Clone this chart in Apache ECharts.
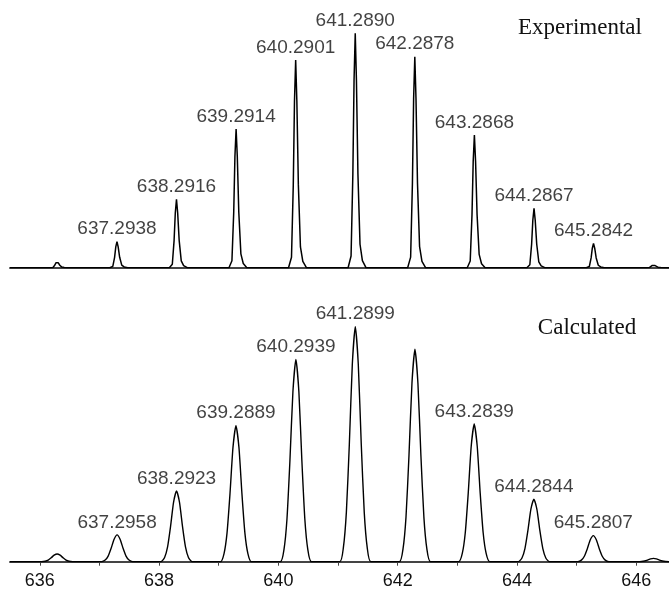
<!DOCTYPE html>
<html>
<head>
<meta charset="utf-8">
<script src="https://cdn.jsdelivr.net/npm/echarts@6/dist/echarts.min.js"></script>
<style>html,body{margin:0;padding:0;background:#fff;}#c{width:669px;height:590px;}</style>
</head>
<body>
<div id="c"></div>
<script>
// ---- data ----
const expPeakMz = [636.29, 637.2938, 638.2916, 639.2914, 640.2901, 641.2890, 642.2878, 643.2868, 644.2867, 645.2842, 646.29];
const expPeakHeight = [2.6, 11.1, 29.2, 59.2, 88.6, 100, 90.0, 56.6, 25.3, 10.4, 1.2];
const expPeakLabel = ['', '637.2938', '638.2916', '639.2914', '640.2901', '641.2890', '642.2878', '643.2868', '644.2867', '645.2842', ''];

const calcPeakMz = [636.29, 637.2958, 638.2923, 639.2889, 640.2939, 641.2899, 642.29, 643.2839, 644.2844, 645.2807, 646.29];
const calcPeakHeight = [3.3, 11.4, 30.1, 57.9, 86.1, 100, 90.4, 58.6, 26.6, 11.1, 1.4];
const calcPeakLabel = ['', '637.2958', '638.2923', '639.2889', '640.2939', '641.2899', '', '643.2839', '644.2844', '645.2807', ''];

// peak profile shapes (offset in m/z, fraction of apex)
const expProfileDx  = [-0.12, -0.07, -0.04, -0.02, 0, 0.02, 0.045, 0.08, 0.12, 0.18];
const expProfileRel = [0, 0.05, 0.4, 0.8, 1, 0.8, 0.4, 0.1, 0.03, 0];
const calcProfileDx  = [-0.26, -0.2, -0.15, -0.1, -0.05, 0, 0.05, 0.1, 0.15, 0.2, 0.26];
const calcProfileRel = [0, 0.06, 0.21, 0.5, 0.84, 1, 0.84, 0.5, 0.21, 0.06, 0];

const xMin = 635.5, xMax = 646.55;
const tickValues = [636, 637, 638, 639, 640, 641, 642, 643, 644, 645, 646];
const labelValues = [636, 638, 640, 642, 644, 646];

function buildTrace(mz, h, dx, rel) {
  const out = [[xMin, 0]];
  mz.forEach((m, i) => {
    dx.forEach((d, j) => out.push([m + d, h[i] * rel[j]]));
  });
  out.push([xMax, 0]);
  return out;
}
function buildLabels(mz, h, lab) {
  const out = [];
  mz.forEach((m, i) => { if (lab[i]) out.push({ value: [m, h[i]], name: lab[i] }); });
  return out;
}

const chart = echarts.init(document.getElementById('c'), null, { renderer: 'canvas' });
const labelFont = { fontFamily: 'Liberation Sans, Arial, sans-serif', fontSize: 19, color: '#111' };

chart.setOption({
  animation: false,
  backgroundColor: '#fff',
  grid: [
    { left: 10, right: 0, top: 33.3, height: 234.4 },
    { left: 10, right: 0, top: 326.7, height: 235 }
  ],
  xAxis: [
    { gridIndex: 0, type: 'value', min: xMin, max: xMax,
      axisLine: { show: true, lineStyle: { color: '#444', width: 2 } },
      axisTick: { show: false }, axisLabel: { show: false }, splitLine: { show: false } },
    { gridIndex: 1, type: 'value', min: xMin, max: xMax,
      axisLine: { show: true, lineStyle: { color: '#444', width: 2 } },
      axisTick: { show: true, length: 4, inside: false, customValues: tickValues, lineStyle: { color: '#444', width: 1 } },
      axisLabel: { show: true, customValues: labelValues, margin: 10, fontFamily: 'Liberation Sans, Arial, sans-serif', fontSize: 18, color: '#111' },
      splitLine: { show: false } }
  ],
  yAxis: [
    { gridIndex: 0, type: 'value', min: 0, max: 100, show: false },
    { gridIndex: 1, type: 'value', min: 0, max: 100, show: false }
  ],
  series: [
    { type: 'line', xAxisIndex: 0, yAxisIndex: 0, data: buildTrace(expPeakMz, expPeakHeight, expProfileDx, expProfileRel),
      showSymbol: false, lineStyle: { color: '#000', width: 1.5 }, silent: true, z: 3 },
    { type: 'line', xAxisIndex: 1, yAxisIndex: 1, data: buildTrace(calcPeakMz, calcPeakHeight, calcProfileDx, calcProfileRel),
      showSymbol: false, smooth: 0.2, lineStyle: { color: '#000', width: 1.4 }, silent: true, z: 3 },
    { type: 'scatter', xAxisIndex: 0, yAxisIndex: 0, symbolSize: 0, data: buildLabels(expPeakMz, expPeakHeight, expPeakLabel),
      label: Object.assign({ show: true, position: 'top', distance: 3, formatter: p => p.name }, labelFont), silent: true },
    { type: 'scatter', xAxisIndex: 1, yAxisIndex: 1, symbolSize: 0, data: buildLabels(calcPeakMz, calcPeakHeight, calcPeakLabel),
      label: Object.assign({ show: true, position: 'top', distance: 3, formatter: p => p.name }, labelFont), silent: true }
  ],
  graphic: [
    { type: 'text', x: 580, y: 28, style: { text: 'Experimental', font: '23px "Liberation Serif", "Times New Roman", serif', fill: '#111', textAlign: 'center', textVerticalAlign: 'middle' } },
    { type: 'text', x: 587, y: 328, style: { text: 'Calculated', font: '23px "Liberation Serif", "Times New Roman", serif', fill: '#111', textAlign: 'center', textVerticalAlign: 'middle' } }
  ]
});
</script>
</body>
</html>
